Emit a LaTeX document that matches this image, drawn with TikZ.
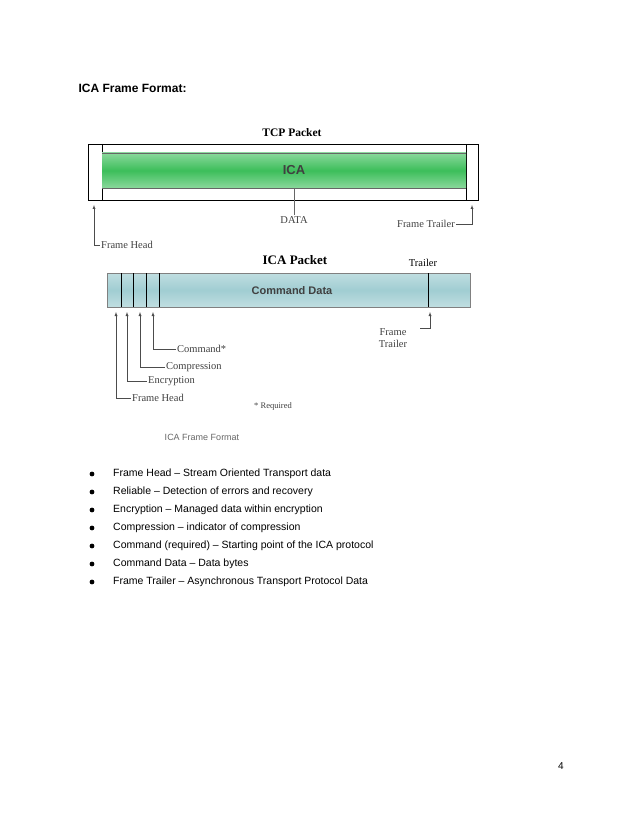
\documentclass[tikz,border=0pt]{standalone}
\usepackage{fontspec}
\setmainfont{Liberation Sans}
\newfontfamily\seriffont{Liberation Serif}
\usetikzlibrary{positioning}
\definecolor{icagreen}{RGB}{60,190,90}
\definecolor{icateal}{RGB}{150,200,205}
\tikzset{
  lbl/.style={font=\seriffont\fontsize{10.5}{12}\selectfont, text=black!75, inner sep=1pt},
  ttl/.style={font=\seriffont\bfseries\fontsize{11.5}{13}\selectfont},
  pointer/.style={-latex, black!70, thin},
  item/.style={anchor=west, font=\fontsize{10.5}{12}\selectfont, inner sep=0pt}
}
\begin{document}
\begin{tikzpicture}[x=1pt,y=-1pt]
    \useasboundingbox (0,0) rectangle (638,826);
    % Heading
    \node[anchor=west, font=\bfseries\fontsize{12}{14}\selectfont] (head) at (75,88) {ICA Frame Format:};

    % TCP packet
    \node[ttl] (tcp) at (292,133) {TCP Packet};
    \draw[thick] (88,144) rectangle (478,200);
    \draw (102,144) -- (102,200);
    \draw (466,144) -- (466,200);
    \shade[top color=icagreen!60, bottom color=icagreen!60, middle color=icagreen] (102,153) rectangle (466,188);
    \draw[black!60] (102,153) -- (466,153) (102,188) -- (466,188);
    \node[font=\bfseries\fontsize{13}{15}\selectfont, text=black!75] (ica) at (294,170) {ICA};
    \node[lbl] (data) at (294,220) {DATA};
    \draw[black!60] (294,188) -- (data.north);
    \coordinate (fhtip) at (94,205);
    \node[lbl, anchor=west] (fh) at (100,245) {Frame Head};
    \draw[pointer, latex-] (fhtip) |- (fh.west);
    \coordinate (fttip) at (472,205);
    \node[lbl, anchor=east] (ft) at (456,224) {Frame Trailer};
    \draw[pointer, latex-] (fttip) |- (ft.east);

    % ICA packet
    \node[ttl, font=\seriffont\bfseries\fontsize{13}{15}\selectfont] (icap) at (295,260) {ICA Packet};
    \node[lbl, text=black] (trl) at (423,263) {Trailer};
    \shade[top color=icateal!60, bottom color=icateal!60, middle color=icateal!90!white] (107,273) rectangle (470,307);
    \draw[black!50] (107,273) rectangle (470,307);
    \foreach \x in {121,133,146,159,428}
      \draw[thick] (\x,273) -- (\x,307);
    \node[font=\bfseries\fontsize{11}{13}\selectfont, text=black!75] (cmd) at (292,291) {Command Data};

    \node[lbl, anchor=west] (lcmd) at (176,349) {Command*};
    \node[lbl, anchor=west] (lcmp) at (165,367) {Compression};
    \node[lbl, anchor=west] (lenc) at (147,381) {Encryption};
    \node[lbl, anchor=west] (lfh) at (131,398) {Frame Head};
    \draw[pointer, latex-] (153,312) |- (lcmd.west);
    \draw[pointer, latex-] (140,312) |- (lcmp.west);
    \draw[pointer, latex-] (127,312) |- (lenc.west);
    \draw[pointer, latex-] (116,312) |- (lfh.west);
    \node[lbl, align=center] (lft) at (393,338) {Frame\\Trailer};
    \draw[pointer, latex-] (430,312) |- (420,328);
    \node[lbl, font=\seriffont\fontsize{8.5}{10}\selectfont] (req) at (273,406) {* Required};

    % Caption
    \node[font=\fontsize{9}{11}\selectfont, text=black!60] (cap) at (202,437) {ICA Frame Format};

    % Bullet list
    \foreach \t [count=\i] in {Frame Head -- Stream Oriented Transport data,
      Reliable -- Detection of errors and recovery,
      Encryption -- Managed data within encryption,
      Compression -- indicator of compression,
      Command (required) -- Starting point of the ICA protocol,
      Command Data -- Data bytes,
      Frame Trailer -- Asynchronous Transport Protocol Data} {
      \fill (92,456+18*\i) circle (2.4);
      \node[item] (b\i) at (113,456+18*\i) {\t};
    }

    \node[font=\fontsize{10}{12}\selectfont] (page) at (561,766) {4};
\end{tikzpicture}
\end{document}
